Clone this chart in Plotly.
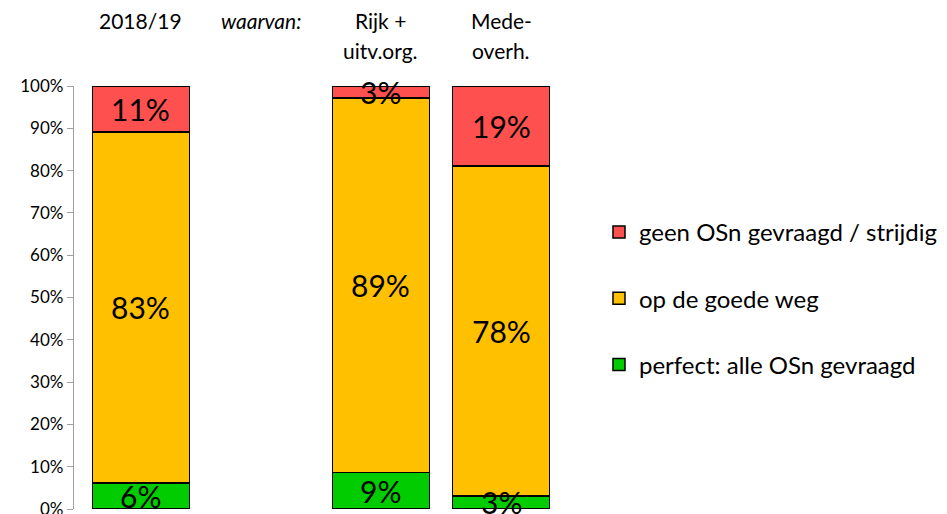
import plotly.graph_objects as go

categories = ["2018/19", "waarvan:", "Rijk + uitv.org.", "Mede-overh."]
category_lines = [["2018/19"], ["waarvan:"], ["Rijk +", "uitv.org."], ["Mede-", "overh."]]
perfect = [6.2, None, 8.6, 3.1]
goede_weg = [82.9, None, 88.6, 78.0]
geen = [10.9, None, 2.8, 18.9]
series_names = ["perfect: alle OSn gevraagd", "op de goede weg", "geen OSn gevraagd / strijdig"]
colors = ["#00CC00", "#FFC000", "#FF5050"]
ytick_vals = [0, 10, 20, 30, 40, 50, 60, 70, 80, 90, 100]

FONT = "Lato, Carlito, Calibri, sans-serif"
x = list(range(len(categories)))
series = [perfect, goede_weg, geen]

fig = go.Figure()
for k, (name, vals, col) in enumerate(zip(series_names, series, colors)):
    fig.add_trace(go.Bar(
        x=x, y=vals, name=name, legendgroup=name, legendrank=3 - k,
        marker=dict(color=col, line=dict(color="black", width=1.5)),
        width=0.81, hoverinfo="skip",
    ))

annotations = []
# data labels centred in each stacked segment
for i in x:
    base = 0
    for vals in series:
        v = vals[i]
        if v is None:
            continue
        annotations.append(dict(
            x=i, xref="x", y=base + v / 2, yref="y", text=f"{round(v)}%",
            showarrow=False, xanchor="center", yanchor="middle",
            font=dict(family=FONT, size=30, color="black"),
        ))
        base += v

# category labels above the bars
for i, lines in enumerate(category_lines):
    for j, line in enumerate(lines):
        annotations.append(dict(
            x=i, xref="x", y=1 + (66 - 30 * j) / 423, yref="paper",
            text=f"<i>{line}</i>" if categories[i] == "waarvan:" else line,
            showarrow=False, xanchor="center", yanchor="middle",
            font=dict(family=FONT, size=21, color="black"),
        ))

fig.update_layout(
    width=947, height=514,
    barmode="stack",
    plot_bgcolor="white", paper_bgcolor="white",
    margin=dict(l=66, r=394, t=78, b=13, autoexpand=False),
    xaxis=dict(range=[-0.558, 3.5], showticklabels=False, showline=False,
               showgrid=False, zeroline=False, ticks=""),
    yaxis=dict(range=[0, 100], tickvals=ytick_vals,
               ticktext=[f"{v}%" for v in ytick_vals],
               showline=True, linecolor="#A0A0A0", linewidth=1.3,
               ticks="outside", ticklen=6, tickcolor="#A0A0A0",
               showgrid=False, zeroline=False, automargin=False,
               tickfont=dict(family=FONT, size=17, color="black")),
    legend=dict(x=1.078, y=0.707, xanchor="left", yanchor="top",
                traceorder="grouped", tracegroupgap=32,
                font=dict(family=FONT, size=24, color="black"),
                bgcolor="rgba(0,0,0,0)"),
    annotations=annotations,
    showlegend=True,
)

fig.write_html("out.html")
